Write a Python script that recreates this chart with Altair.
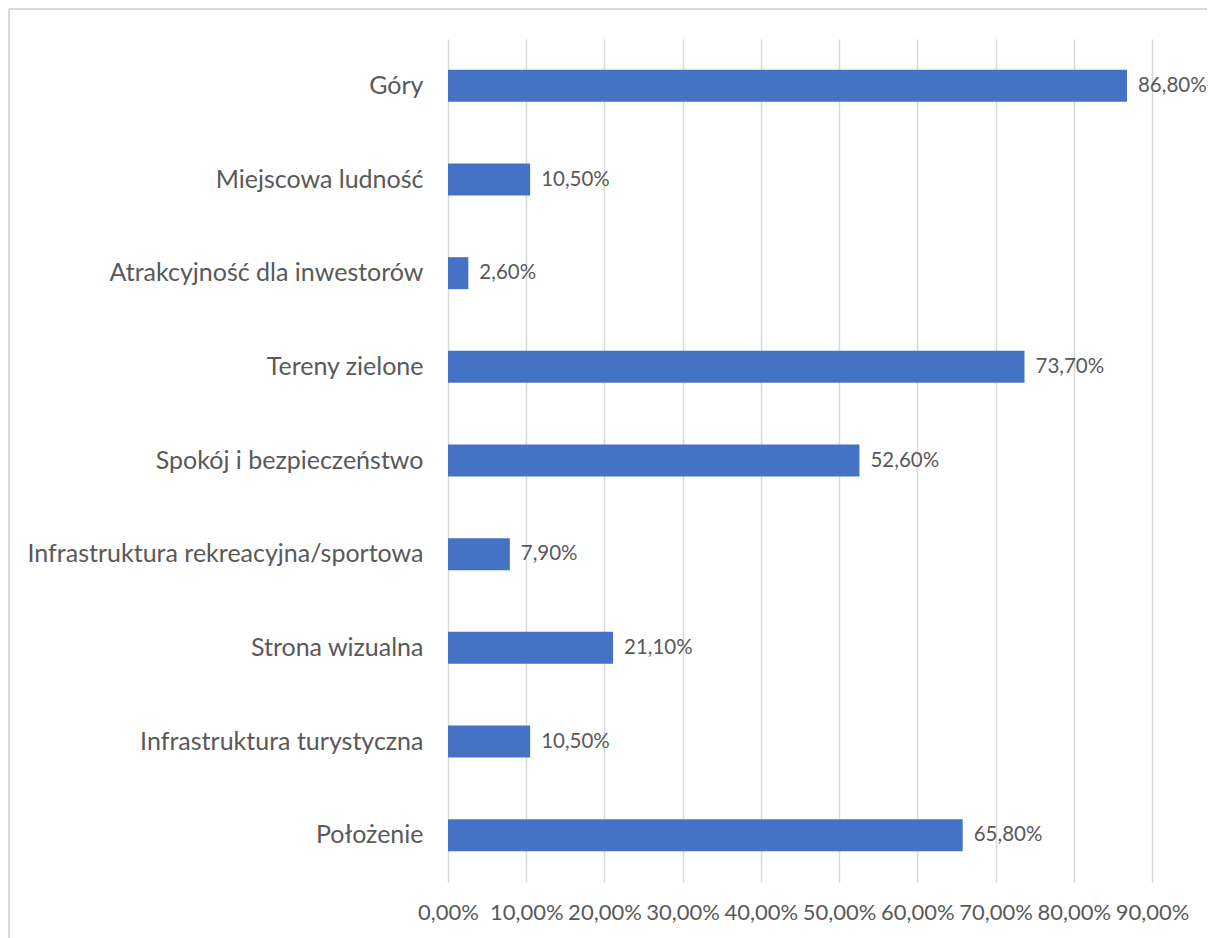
import altair as alt
import pandas as pd

categories = [
    "Góry",
    "Miejscowa ludność",
    "Atrakcyjność dla inwestorów\u00a0",
    "Tereny zielone\u00a0",
    "Spokój i bezpieczeństwo",
    "Infrastruktura rekreacyjna/sportowa",
    "Strona wizualna\u00a0",
    "Infrastruktura turystyczna\u00a0",
    "Położenie\u00a0",
]
values = [86.8, 10.5, 2.6, 73.7, 52.6, 7.9, 21.1, 10.5, 65.8]
x_ticks = [0, 10, 20, 30, 40, 50, 60, 70, 80, 90]

df = pd.DataFrame({"cat": categories, "val": values})

FONT = "Lato"
TXT = "#595959"
GRID = "#d9d9d9"

W, H = 704, 843
PAD_L, PAD_T = 440, 31

y_axis = alt.Axis(
    domain=False,
    ticks=False,
    grid=False,
    labelPadding=25,
    labelLimit=0,
    labelFontSize=25,
    labelColor=TXT,
    labelFont=FONT,
)
x_axis = alt.Axis(
    values=x_ticks,
    domain=False,
    ticks=False,
    grid=True,
    gridColor=GRID,
    gridWidth=1.5,
    labelPadding=20,
    labelFontSize=22,
    labelOverlap=False,
    labelFlush=False,
    labelColor=TXT,
    labelFont=FONT,
    labelExpr="replace(format(datum.value, '.2f'), '.', ',') + '%'",
)
x_scale = alt.Scale(domain=[0, 90], nice=False)

Y = alt.Y("cat:N", sort=categories, title=None, axis=y_axis)
X = alt.X("val:Q", scale=x_scale, title=None, axis=x_axis)

bars = alt.Chart(df).mark_bar(size=32, color="#4472C4").encode(y=Y, x=X)

labels = alt.Chart(df).transform_calculate(
    lab="replace(format(datum.val, '.2f'), '.', ',') + '%'"
).mark_text(
    align="left", baseline="middle", dx=11, fontSize=20.5, color=TXT, font=FONT
).encode(y=Y, x=X, text="lab:N")

frame_left = alt.Chart(df).mark_rule(color=GRID, strokeWidth=2, clip=False).encode(
    x=alt.value(-439), y=alt.value(-30), y2=alt.value(H + 60)
)
frame_top = alt.Chart(df).mark_rule(color=GRID, strokeWidth=2, clip=False).encode(
    x=alt.value(-439), x2=alt.value(W + 70), y=alt.value(-30)
)

chart = (
    alt.layer(frame_left, frame_top, bars, labels)
    .properties(
        width=W,
        height=H,
        background="white",
        autosize=alt.AutoSizeParams(type="none"),
        padding={"left": PAD_L, "top": PAD_T, "right": 55, "bottom": 56},
    )
    .configure_view(strokeWidth=0, stroke="transparent")
)

chart.save("out.html", embed_options={"renderer": "svg", "actions": False})
